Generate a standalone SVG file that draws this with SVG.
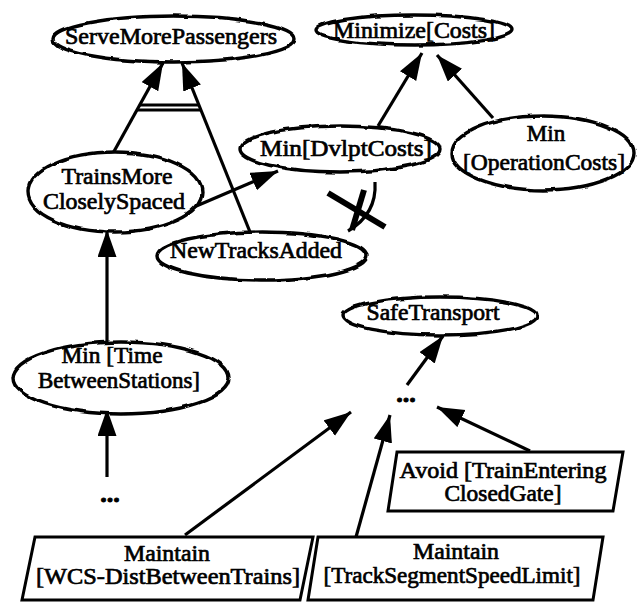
<svg xmlns="http://www.w3.org/2000/svg" width="641" height="602" viewBox="0 0 641 602">
  <defs>
    <style>
      .cloud { fill: #fff; stroke: #000; stroke-width: 3.4; filter: url(#rough); }
      .box { fill: #fff; stroke: #000; stroke-width: 3; stroke-linejoin: miter; }
      .lbl { font-family: "Liberation Serif", "Times New Roman", serif; font-size: 23px; fill: #000; stroke: #000; stroke-width: 0.7; text-anchor: middle; }
      .dots { font-family: "Liberation Serif", "Times New Roman", serif; font-size: 26px; font-weight: bold; fill: #000; stroke: #000; stroke-width: 1; text-anchor: middle; }
      .edge { stroke: #000; stroke-width: 3.2; fill: none; }
      .arrow { marker-end: url(#head); }
      .cross { stroke: #000; stroke-width: 6; stroke-linecap: butt; }
    </style>
    <filter id="rough" x="-5%" y="-10%" width="110%" height="120%">
      <feTurbulence type="fractalNoise" baseFrequency="0.06" numOctaves="2" seed="3" result="n"/>
      <feDisplacementMap in="SourceGraphic" in2="n" scale="4" xChannelSelector="R" yChannelSelector="G"/>
    </filter>
    <marker id="head" markerUnits="userSpaceOnUse" markerWidth="30" markerHeight="22" refX="27" refY="9.5" orient="auto">
      <path d="M0,0 L27,9.5 L0,19 Z" fill="#000"/>
    </marker>
  </defs>
  <rect width="641" height="602" fill="#fff"/>

  <!-- connectors -->
  <g id="connectors">
    <line class="edge arrow" x1="112" y1="155" x2="163" y2="63"/>
    <line class="edge arrow" x1="250" y1="232" x2="182" y2="63"/>
    <!-- AND-refinement bars -->
    <line class="edge" x1="140" y1="105" x2="199" y2="105" stroke-width="2.5"/>
    <line class="edge" x1="137" y1="110" x2="201" y2="110" stroke-width="2.5"/>
    <line class="edge arrow" x1="187" y1="210" x2="278" y2="171"/>
    <line class="edge arrow" x1="107" y1="343" x2="107" y2="230"/>
    <line class="edge arrow" x1="107" y1="477" x2="107" y2="409"/>
    <line class="edge arrow" x1="378" y1="126" x2="422" y2="53"/>
    <line class="edge arrow" x1="493" y1="118" x2="437" y2="55"/>
    <line class="edge arrow" x1="407" y1="385" x2="443" y2="336"/>
    <line class="edge arrow" x1="185" y1="535" x2="351" y2="412"/>
    <line class="edge arrow" x1="356" y1="537" x2="390" y2="415"/>
    <line class="edge arrow" x1="530" y1="451" x2="437" y2="407"/>
    <!-- obstructed contribution -->
    <path class="edge" stroke-width="2" d="M348,231 Q377,214 375,182"/>
    <line class="cross" x1="328" y1="193" x2="385" y2="227"/>
    <line class="cross" x1="364" y1="190" x2="352" y2="230"/>
  </g>

  <g id="serveMorePassengers">
    <ellipse class="cloud" cx="174" cy="39" rx="121" ry="23"/>
    <text class="lbl" x="171" y="44" textLength="212" lengthAdjust="spacingAndGlyphs">ServeMorePassengers</text>
  </g>

  <g id="minimizeCosts">
    <ellipse class="cloud" cx="414" cy="30" rx="98" ry="15"/>
    <text class="lbl" x="414" y="38" textLength="162" lengthAdjust="spacingAndGlyphs">Minimize[Costs]</text>
  </g>

  <g id="minDvlptCosts">
    <ellipse class="cloud" cx="340" cy="149" rx="100" ry="23"/>
    <text class="lbl" x="346" y="156" textLength="172" lengthAdjust="spacingAndGlyphs">Min[DvlptCosts]</text>
  </g>

  <g id="minOperationCosts">
    <ellipse class="cloud" cx="543" cy="153" rx="91" ry="37"/>
    <text class="lbl" x="546" y="141">Min</text>
    <text class="lbl" x="544" y="170" textLength="162" lengthAdjust="spacingAndGlyphs">[OperationCosts]</text>
  </g>

  <g id="trainsMoreCloselySpaced">
    <ellipse class="cloud" cx="115" cy="192" rx="87" ry="40"/>
    <text class="lbl" x="117" y="184" textLength="111" lengthAdjust="spacingAndGlyphs">TrainsMore</text>
    <text class="lbl" x="114" y="209" textLength="142" lengthAdjust="spacingAndGlyphs">CloselySpaced</text>
  </g>

  <g id="newTracksAdded">
    <ellipse class="cloud" cx="262" cy="256" rx="105" ry="24"/>
    <text class="lbl" x="256" y="258" textLength="172" lengthAdjust="spacingAndGlyphs">NewTracksAdded</text>
  </g>

  <g id="minTimeBetweenStations">
    <ellipse class="cloud" cx="121" cy="378" rx="108" ry="36"/>
    <text class="lbl" x="112" y="363" textLength="101" lengthAdjust="spacingAndGlyphs">Min [Time</text>
    <text class="lbl" x="119" y="388" textLength="162" lengthAdjust="spacingAndGlyphs">BetweenStations]</text>
  </g>

  <g id="ellipsisLeft">
    <text class="dots" x="110" y="502">...</text>
  </g>

  <g id="safeTransport">
    <ellipse class="cloud" cx="440" cy="316" rx="97" ry="19"/>
    <text class="lbl" x="433" y="320" textLength="133" lengthAdjust="spacingAndGlyphs">SafeTransport</text>
  </g>

  <g id="ellipsisRight">
    <text class="dots" x="406" y="402">...</text>
  </g>

  <g id="avoidTrainEnteringClosedGate">
    <path class="box" d="M397,452 L623,452 L613,511 L388,511 Z"/>
    <text class="lbl" x="503" y="478" textLength="207" lengthAdjust="spacingAndGlyphs">Avoid [TrainEntering</text>
    <text class="lbl" x="503" y="501" textLength="117" lengthAdjust="spacingAndGlyphs">ClosedGate]</text>
  </g>

  <g id="maintainWCSDist">
    <path class="box" d="M35,537 L313,537 L300,600 L22,600 Z"/>
    <text class="lbl" x="167" y="561" textLength="86" lengthAdjust="spacingAndGlyphs">Maintain</text>
    <text class="lbl" x="168" y="584" textLength="264" lengthAdjust="spacingAndGlyphs">[WCS-DistBetweenTrains]</text>
  </g>

  <g id="maintainTrackSegmentSpeedLimit">
    <path class="box" d="M318,537 L603,537 L593,600 L308,600 Z"/>
    <text class="lbl" x="456" y="559" textLength="86" lengthAdjust="spacingAndGlyphs">Maintain</text>
    <text class="lbl" x="452" y="583" textLength="257" lengthAdjust="spacingAndGlyphs">[TrackSegmentSpeedLimit]</text>
  </g>
</svg>
